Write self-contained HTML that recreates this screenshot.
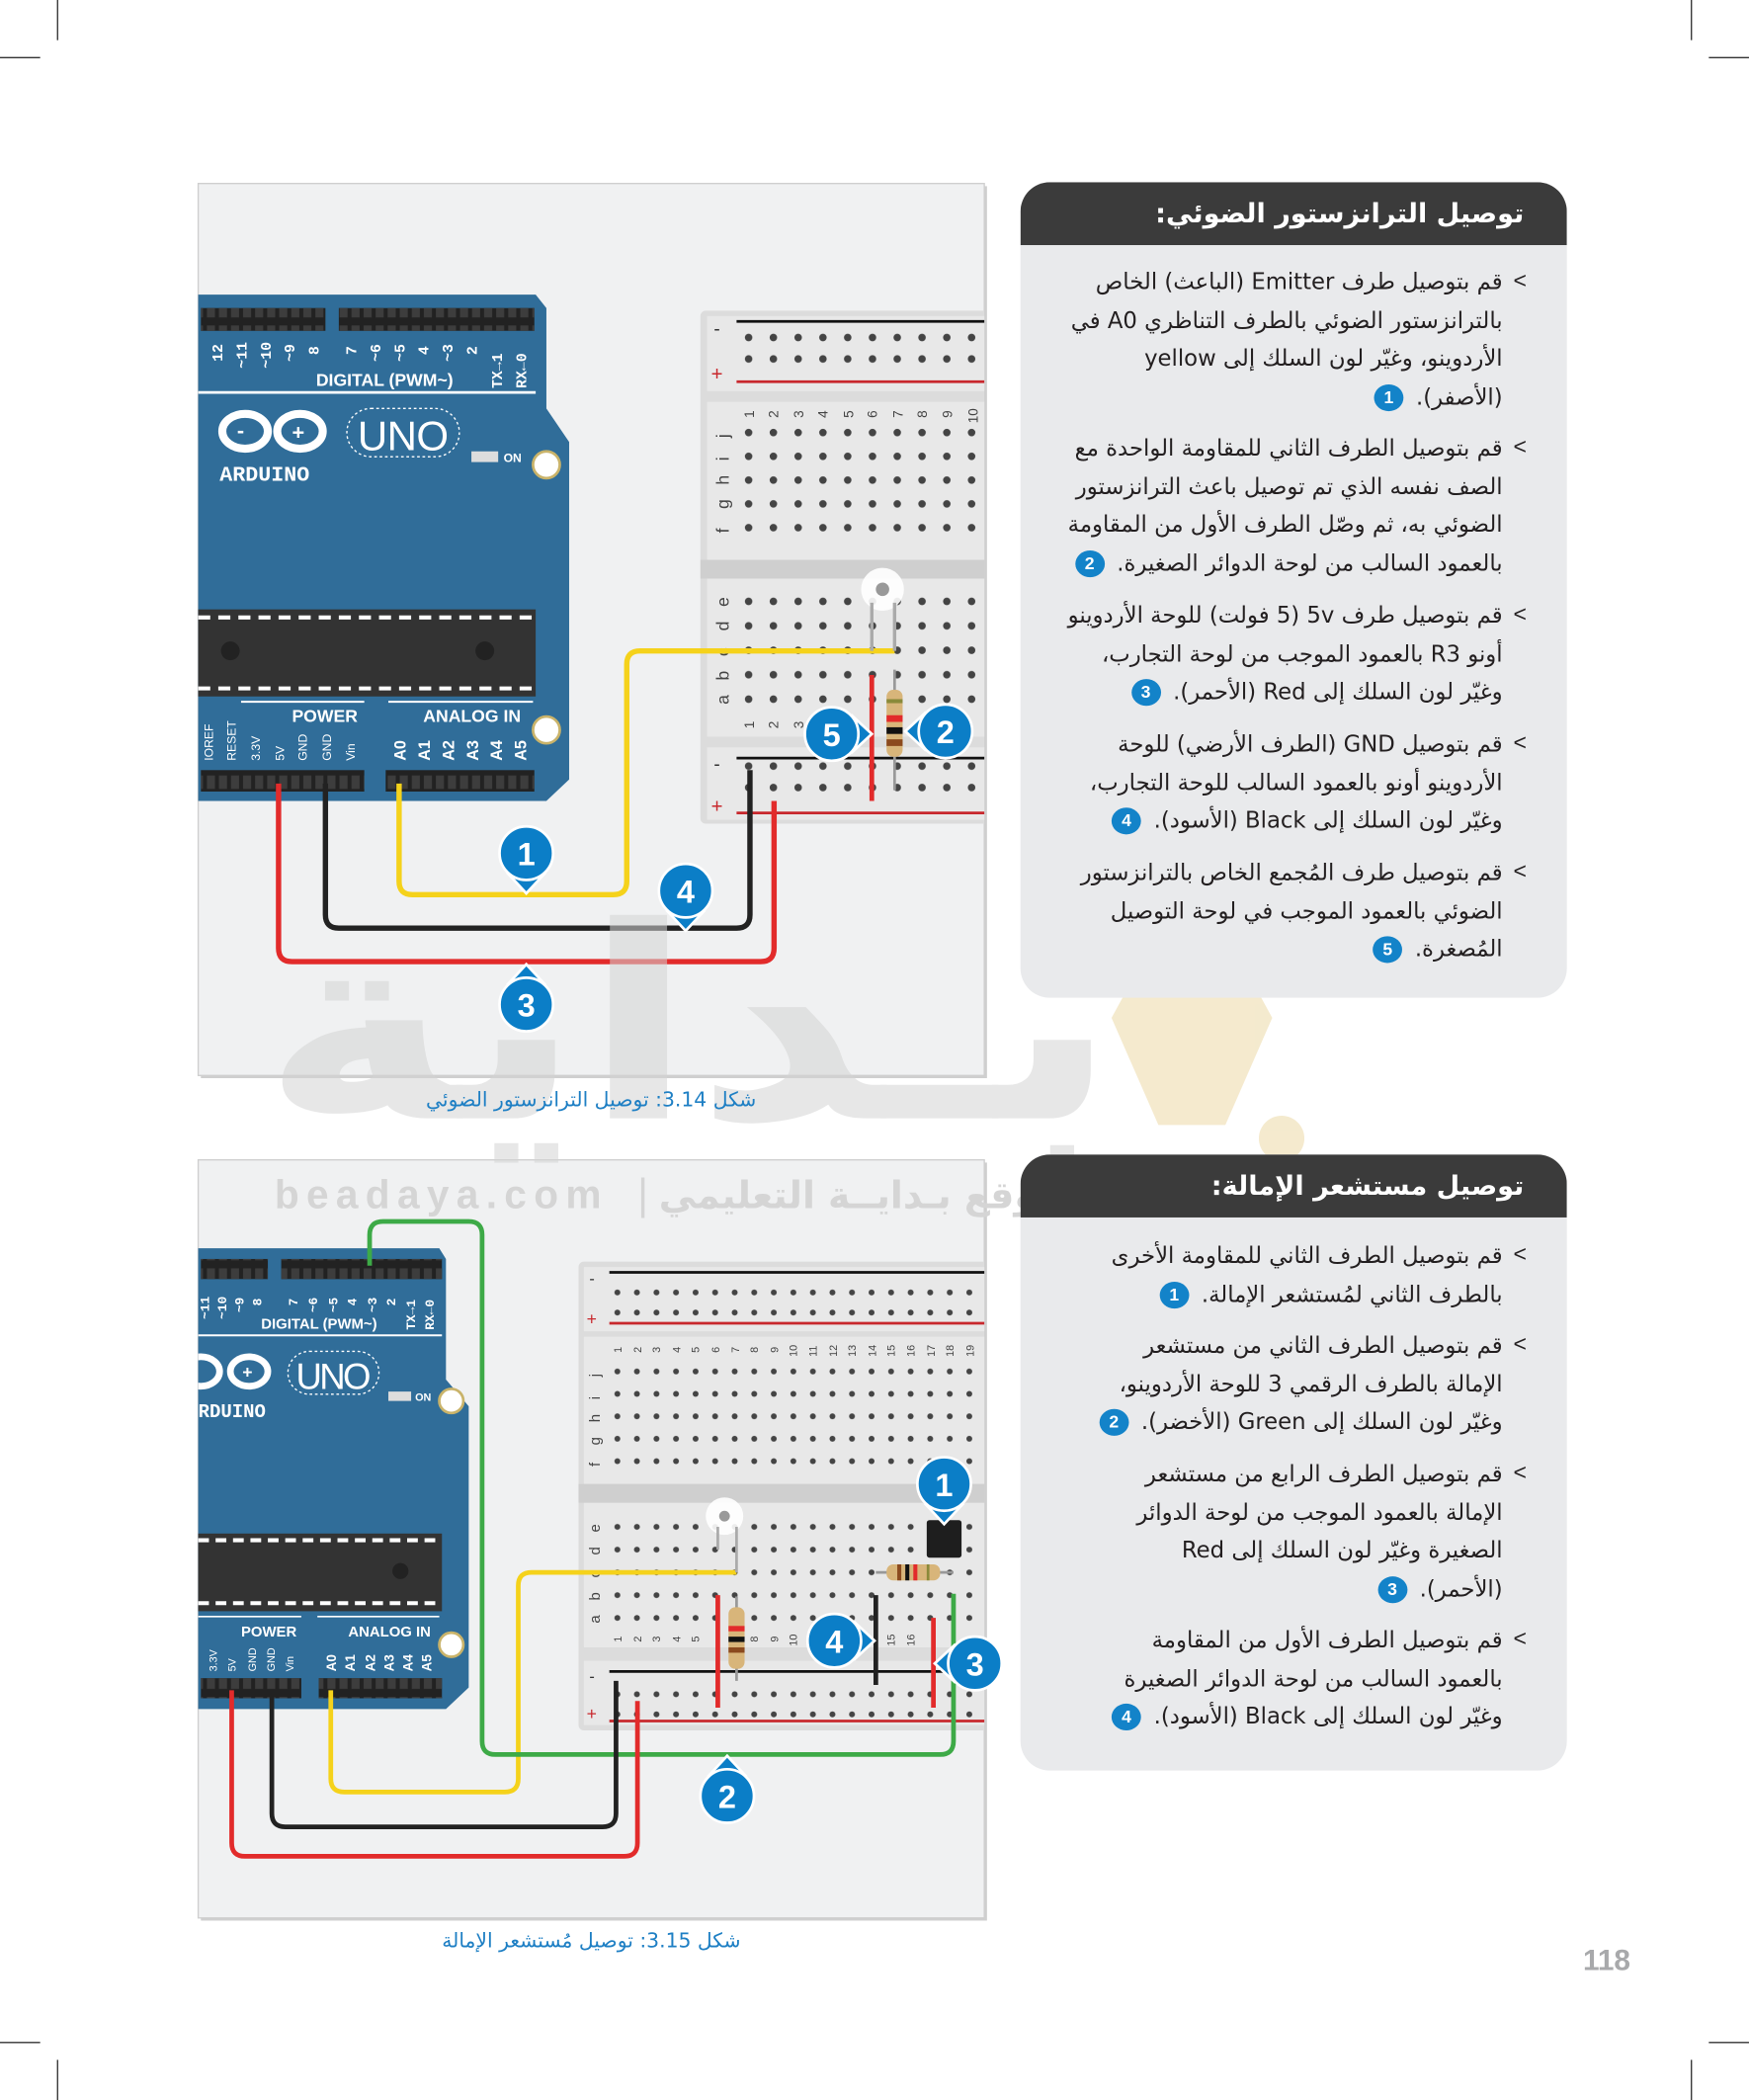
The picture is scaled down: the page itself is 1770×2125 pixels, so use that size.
<!DOCTYPE html>
<html><head><meta charset="utf-8">
<style>
html,body{margin:0;padding:0;background:#fff;}
body{width:1770px;height:2125px;overflow:hidden;position:relative;}
#wrap{position:absolute;left:0;top:0;width:1306px;height:1568px;transform:scale(1.35528);transform-origin:0 0;}
#wrap svg{position:absolute;left:0;top:0;}
.panel{position:absolute;left:762px;width:408px;background:#e9eaec;border-radius:22px;overflow:hidden;}
.hdr{height:47px;background:#3b3b3b;color:#fff;font:bold 20px "DejaVu Sans",sans-serif;direction:rtl;text-align:right;padding-right:32px;box-sizing:border-box;line-height:47px;}
.p{position:absolute;right:48px;direction:rtl;text-align:right;font:16.8px/28.6px "DejaVu Sans","Liberation Sans",sans-serif;color:#231f20;white-space:nowrap;}
.b{position:absolute;right:30px;font:17px "Liberation Sans",sans-serif;color:#231f20;}
.n{display:inline-block;width:22px;height:20px;border-radius:50%;background:#1383c9;color:#fff;font:bold 13px/20px "Liberation Sans",sans-serif;text-align:center;vertical-align:middle;margin-right:4px;}
.cap{position:absolute;direction:rtl;font:15px "DejaVu Sans",sans-serif;color:#1e7fc4;white-space:nowrap;}
</style></head><body><div id="wrap">
<svg width="1306" height="1568" viewBox="0 0 1306 1568" xmlns="http://www.w3.org/2000/svg">
<defs>
<pattern id="d1a" x="549.75" y="244" width="18.5" height="16" patternUnits="userSpaceOnUse"><circle cx="9.25" cy="8" r="2.8" fill="#444"/></pattern>
<pattern id="d1b" x="549.75" y="314.1" width="18.5" height="17.75" patternUnits="userSpaceOnUse"><circle cx="9.25" cy="8.875" r="2.8" fill="#444"/></pattern>
<pattern id="d1c" x="549.75" y="439.9" width="18.5" height="18.25" patternUnits="userSpaceOnUse"><circle cx="9.25" cy="9.125" r="2.8" fill="#444"/></pattern>
<pattern id="d2a" x="453.7" y="957.5" width="14.6" height="15" patternUnits="userSpaceOnUse"><circle cx="7.3" cy="7.5" r="2.2" fill="#444"/></pattern>
<pattern id="d2b" x="453.7" y="1015.6" width="14.6" height="16.75" patternUnits="userSpaceOnUse"><circle cx="7.3" cy="8.375" r="2.2" fill="#444"/></pattern>
<pattern id="d2c" x="453.7" y="1131.5" width="14.6" height="17" patternUnits="userSpaceOnUse"><circle cx="7.3" cy="8.5" r="2.2" fill="#444"/></pattern>
<pattern id="hp" x="0" y="0" width="9" height="16" patternUnits="userSpaceOnUse"><rect x="1.5" y="3" width="6" height="10" fill="#3d3d3d"/></pattern>
<clipPath id="c1"><rect x="148" y="137" width="587" height="666"/></clipPath>
<clipPath id="c2"><rect x="148" y="866" width="587" height="566"/></clipPath>
</defs>
<g stroke="#333" stroke-width="1">
<line x1="43" y1="0" x2="43" y2="30"/><line x1="0" y1="43" x2="30" y2="43"/>
<line x1="1263" y1="0" x2="1263" y2="30"/><line x1="1276" y1="43" x2="1306" y2="43"/>
<line x1="43" y1="1538" x2="43" y2="1568"/><line x1="0" y1="1525" x2="30" y2="1525"/>
<line x1="1263" y1="1538" x2="1263" y2="1568"/><line x1="1276" y1="1525" x2="1306" y2="1525"/>
</g>
<!-- FIGURE 1 -->
<rect x="150" y="139" width="587" height="666" fill="#cfcfcf"/>
<rect x="148" y="137" width="587" height="666" fill="#f0f1f2" stroke="#cfcfcf"/>
<g clip-path="url(#c1)">
<path d="M140 220 H400 L408 230 V305 L425 330 V582 L408 598 H140 Z" fill="#306d99"/>
<rect x="150" y="230" width="93" height="17" fill="#222"/><rect x="150" y="230" width="93" height="17" fill="url(#hp)"/>
<rect x="253" y="230" width="146" height="17" fill="#222"/><rect x="253" y="230" width="146" height="17" fill="url(#hp)"/>
<g font-family="Liberation Mono,monospace" font-size="11" fill="#fff" font-weight="bold">
<text transform="translate(166,270) rotate(-90)">12</text><text transform="translate(184,275) rotate(-90)">~11</text><text transform="translate(202,275) rotate(-90)">~10</text><text transform="translate(220,270) rotate(-90)">~9</text><text transform="translate(238,265) rotate(-90)">8</text>
<text transform="translate(266,265) rotate(-90)">7</text><text transform="translate(284,270) rotate(-90)">~6</text><text transform="translate(302,270) rotate(-90)">~5</text><text transform="translate(320,265) rotate(-90)">4</text><text transform="translate(338,270) rotate(-90)">~3</text><text transform="translate(356,265) rotate(-90)">2</text><text transform="translate(375,290) rotate(-90)">TX→1</text><text transform="translate(393,290) rotate(-90)">RX←0</text>
</g>
<text x="236" y="288" font-family="Liberation Sans" font-weight="bold" font-size="13" fill="#fff">DIGITAL (PWM~)</text>
<line x1="148" y1="293" x2="400" y2="293" stroke="#fff" stroke-width="2"/>
<g fill="none" stroke="#fff" stroke-width="6"><ellipse cx="183" cy="322" rx="17" ry="13"/><ellipse cx="224" cy="322" rx="17" ry="13"/></g>
<text x="177" y="327" font-family="Liberation Sans" font-weight="bold" font-size="16" fill="#fff">-</text><text x="218" y="328" font-family="Liberation Sans" font-weight="bold" font-size="16" fill="#fff">+</text>
<text x="164" y="359" font-family="Liberation Mono" font-weight="bold" font-size="16" fill="#fff">ARDUINO</text>
<rect x="259" y="305" width="84" height="36" rx="18" fill="none" stroke="#fff" stroke-dasharray="2 2"/>
<text x="267" y="336" font-family="Liberation Sans" font-size="31" fill="#fff" textLength="68">UNO</text>
<rect x="352" y="337" width="20" height="8" fill="#ddd"/><text x="376" y="345" font-family="Liberation Sans" font-weight="bold" font-size="9" fill="#fff">ON</text>
<circle cx="408" cy="347" r="10" fill="#fff" stroke="#c9b36a" stroke-width="2"/>
<circle cx="408" cy="545" r="10" fill="#fff" stroke="#c9b36a" stroke-width="2"/>
<rect x="140" y="455" width="260" height="65" fill="#333"/>
<line x1="148" y1="461" x2="400" y2="461" stroke="#fff" stroke-width="3" stroke-dasharray="9 6"/>
<line x1="148" y1="514" x2="400" y2="514" stroke="#fff" stroke-width="3" stroke-dasharray="9 6"/>
<circle cx="172" cy="486" r="7" fill="#222"/><circle cx="362" cy="486" r="7" fill="#222"/>
<line x1="180" y1="524" x2="272" y2="524" stroke="#fff" stroke-width="1.5"/><line x1="290" y1="524" x2="398" y2="524" stroke="#fff" stroke-width="1.5"/>
<text x="218" y="539" font-family="Liberation Sans" font-weight="bold" font-size="13" fill="#fff">POWER</text>
<text x="316" y="539" font-family="Liberation Sans" font-weight="bold" font-size="13" fill="#fff">ANALOG IN</text>
<g font-family="Liberation Sans" font-size="9" fill="#fff">
<text transform="translate(159,568) rotate(-90)">IOREF</text><text transform="translate(176,568) rotate(-90)">RESET</text><text transform="translate(194,568) rotate(-90)">3.3V</text><text transform="translate(212,568) rotate(-90)">5V</text><text transform="translate(229,568) rotate(-90)">GND</text><text transform="translate(247,568) rotate(-90)">GND</text><text transform="translate(265,568) rotate(-90)">Vin</text>
</g>
<g font-family="Liberation Sans" font-weight="bold" font-size="12" fill="#fff">
<text transform="translate(303,568) rotate(-90)">A0</text><text transform="translate(321,568) rotate(-90)">A1</text><text transform="translate(339,568) rotate(-90)">A2</text><text transform="translate(357,568) rotate(-90)">A3</text><text transform="translate(375,568) rotate(-90)">A4</text><text transform="translate(393,568) rotate(-90)">A5</text>
</g>
<rect x="150" y="575" width="122" height="16" fill="#222"/><rect x="150" y="575" width="122" height="16" fill="url(#hp)"/>
<rect x="288" y="575" width="111" height="16" fill="#222"/><rect x="288" y="575" width="111" height="16" fill="url(#hp)"/>
<rect x="523" y="232" width="230" height="383" rx="4" fill="#dcdcdc"/>
<rect x="528" y="300" width="220" height="118" fill="#e8e8e8"/><rect x="528" y="432" width="220" height="118" fill="#e8e8e8"/>
<rect x="528" y="236" width="220" height="56" fill="#e8e8e8"/><rect x="528" y="558" width="220" height="54" fill="#e8e8e8"/>
<rect x="523" y="418" width="230" height="14" fill="#cfcfcf"/>
<line x1="550" y1="240" x2="740" y2="240" stroke="#111" stroke-width="2"/><line x1="550" y1="285" x2="740" y2="285" stroke="#c8282d" stroke-width="2"/>
<line x1="550" y1="566" x2="740" y2="566" stroke="#111" stroke-width="2"/><line x1="550" y1="607" x2="740" y2="607" stroke="#c8282d" stroke-width="2"/>
<text x="533" y="250" font-size="14" fill="#333" font-family="Liberation Sans">-</text><text x="531" y="284" font-size="15" fill="#c8282d" font-family="Liberation Sans">+</text>
<text x="533" y="575" font-size="14" fill="#333" font-family="Liberation Sans">-</text><text x="531" y="607" font-size="15" fill="#c8282d" font-family="Liberation Sans">+</text>
<rect x="550" y="244" width="190" height="32" fill="url(#d1a)"/>
<rect x="550" y="314" width="190" height="89" fill="url(#d1b)"/>
<rect x="550" y="440" width="190" height="91" fill="url(#d1c)"/>
<rect x="550" y="568" width="190" height="32" fill="url(#d1a)"/>
<g font-family="Liberation Sans" font-size="10" fill="#444">
<text transform="translate(563,312) rotate(-90)">1</text><text transform="translate(581,312) rotate(-90)">2</text><text transform="translate(600,312) rotate(-90)">3</text><text transform="translate(618,312) rotate(-90)">4</text><text transform="translate(637,312) rotate(-90)">5</text><text transform="translate(655,312) rotate(-90)">6</text><text transform="translate(674,312) rotate(-90)">7</text><text transform="translate(692,312) rotate(-90)">8</text><text transform="translate(711,312) rotate(-90)">9</text><text transform="translate(730,316) rotate(-90)">10</text>
<text transform="translate(563,544) rotate(-90)">1</text><text transform="translate(581,544) rotate(-90)">2</text><text transform="translate(600,544) rotate(-90)">3</text>
</g>
<g font-family="Liberation Sans" font-size="13" fill="#444">
<text transform="translate(544,327) rotate(-90)">j</text><text transform="translate(544,344) rotate(-90)">i</text><text transform="translate(544,362) rotate(-90)">h</text><text transform="translate(544,380) rotate(-90)">g</text><text transform="translate(544,398) rotate(-90)">f</text>
<text transform="translate(544,453) rotate(-90)">e</text><text transform="translate(544,471) rotate(-90)">d</text><text transform="translate(544,490) rotate(-90)">c</text><text transform="translate(544,508) rotate(-90)">b</text><text transform="translate(544,526) rotate(-90)">a</text>
</g>
</g>
<g fill="none" stroke-width="4" stroke-linejoin="round">
<path d="M298 585 V658 Q298 668 308 668 H458 Q468 668 468 658 V496 Q468 486 478 486 H668" stroke="#f5d21b"/>
<path d="M243 585 V683 Q243 693 253 693 H550 Q560 693 560 683 V575" stroke="#222"/>
<path d="M208 585 V708 Q208 718 218 718 H568 Q578 718 578 708 V598" stroke="#e22b2b"/>
<path d="M651 504 V598" stroke="#e22b2b" stroke-width="3.5"/>
</g>
<circle cx="659" cy="440" r="16" fill="#fff" opacity="0.9"/><circle cx="659" cy="440" r="5" fill="#999"/>
<path d="M651 450 V486 M668 450 V486" stroke="#aaa" stroke-width="2.5"/>
<path d="M668 500 V590" stroke="#999" stroke-width="2"/>
<rect x="662" y="515" width="12" height="50" rx="5" fill="#d8b57a"/>
<rect x="662" y="522" width="12" height="3" fill="#8a8a3a"/><rect x="662" y="534" width="12" height="5" fill="#e22b2b"/><rect x="662" y="543" width="12" height="5" fill="#111"/><rect x="662" y="552" width="12" height="5" fill="#8b4a1e"/>
<!-- FIGURE 2 -->
<rect x="150" y="868" width="587" height="566" fill="#cfcfcf"/>
<rect x="148" y="866" width="587" height="566" fill="#f0f1f2" stroke="#cfcfcf"/>
<!-- watermark -->
<g opacity="0.55">
<text x="195" y="835" font-family="DejaVu Sans" font-weight="bold" font-size="200" fill="#d4d4d4" textLength="640" lengthAdjust="spacingAndGlyphs">بـداية</text>
<path d="M890 650 L950 760 L915 840 L865 840 L830 760 Z" fill="#ecd9a6"/>
<circle cx="957" cy="850" r="17" fill="#ecd9a6"/>
</g>
<text x="205" y="902" font-family="Liberation Sans" font-weight="bold" font-size="30" fill="#d5d5d5" letter-spacing="6" textLength="250">beadaya.com</text>
<text x="475" y="902" font-family="DejaVu Sans" font-size="30" fill="#d5d5d5">|</text>
<text x="492" y="902" font-family="DejaVu Sans" font-weight="bold" font-size="28" fill="#d5d5d5" textLength="300" lengthAdjust="spacingAndGlyphs">موقع بـدايــة التعليمي</text>
<g clip-path="url(#c2)">
<path d="M140 932 H328 L333 940 V1030 L350 1050 V1260 L333 1276 H140 Z" fill="#306d99"/>
<rect x="150" y="940" width="50" height="15" fill="#222"/><rect x="150" y="940" width="50" height="15" fill="url(#hp)"/>
<rect x="210" y="940" width="120" height="15" fill="#222"/><rect x="210" y="940" width="120" height="15" fill="url(#hp)"/>
<g font-family="Liberation Mono,monospace" font-size="9.5" fill="#fff" font-weight="bold">
<text transform="translate(156,985) rotate(-90)">~11</text><text transform="translate(169,985) rotate(-90)">~10</text><text transform="translate(182,980) rotate(-90)">~9</text><text transform="translate(195,975) rotate(-90)">8</text>
<text transform="translate(222,975) rotate(-90)">7</text><text transform="translate(237,980) rotate(-90)">~6</text><text transform="translate(252,980) rotate(-90)">~5</text><text transform="translate(266,975) rotate(-90)">4</text><text transform="translate(281,980) rotate(-90)">~3</text><text transform="translate(295,975) rotate(-90)">2</text><text transform="translate(310,993) rotate(-90)">TX→1</text><text transform="translate(324,993) rotate(-90)">RX←0</text>
</g>
<text x="195" y="992" font-family="Liberation Sans" font-weight="bold" font-size="11" fill="#fff">DIGITAL (PWM~)</text>
<line x1="148" y1="997" x2="330" y2="997" stroke="#fff" stroke-width="1.5"/>
<g fill="none" stroke="#fff" stroke-width="5"><ellipse cx="150" cy="1024" rx="14" ry="11"/><ellipse cx="186" cy="1024" rx="14" ry="11"/></g>
<text x="181" y="1029" font-family="Liberation Sans" font-weight="bold" font-size="13" fill="#fff">+</text>
<text x="148" y="1058" font-family="Liberation Mono" font-weight="bold" font-size="14" fill="#fff">RDUINO</text>
<rect x="215" y="1009" width="68" height="32" rx="16" fill="none" stroke="#fff" stroke-dasharray="2 2"/>
<text x="221" y="1037" font-family="Liberation Sans" font-size="27" fill="#fff" textLength="56">UNO</text>
<rect x="290" y="1039" width="17" height="7" fill="#ddd"/><text x="310" y="1046" font-family="Liberation Sans" font-weight="bold" font-size="8" fill="#fff">ON</text>
<circle cx="337" cy="1046" r="9" fill="#fff" stroke="#c9b36a" stroke-width="2"/>
<circle cx="337" cy="1228" r="9" fill="#fff" stroke="#c9b36a" stroke-width="2"/>
<rect x="140" y="1145" width="190" height="58" fill="#333"/>
<line x1="148" y1="1150" x2="330" y2="1150" stroke="#fff" stroke-width="3" stroke-dasharray="8 5"/>
<line x1="148" y1="1197" x2="330" y2="1197" stroke="#fff" stroke-width="3" stroke-dasharray="8 5"/>
<circle cx="299" cy="1173" r="6" fill="#222"/>
<line x1="148" y1="1207" x2="225" y2="1207" stroke="#fff" stroke-width="1.2"/><line x1="237" y1="1207" x2="328" y2="1207" stroke="#fff" stroke-width="1.2"/>
<text x="180" y="1222" font-family="Liberation Sans" font-weight="bold" font-size="11" fill="#fff">POWER</text>
<text x="260" y="1222" font-family="Liberation Sans" font-weight="bold" font-size="11" fill="#fff">ANALOG IN</text>
<g font-family="Liberation Sans" font-size="8" fill="#fff">
<text transform="translate(162,1248) rotate(-90)">3.3V</text><text transform="translate(176,1248) rotate(-90)">5V</text><text transform="translate(191,1248) rotate(-90)">GND</text><text transform="translate(205,1248) rotate(-90)">GND</text><text transform="translate(219,1248) rotate(-90)">Vin</text>
</g>
<g font-family="Liberation Sans" font-weight="bold" font-size="10" fill="#fff">
<text transform="translate(251,1248) rotate(-90)">A0</text><text transform="translate(265,1248) rotate(-90)">A1</text><text transform="translate(280,1248) rotate(-90)">A2</text><text transform="translate(294,1248) rotate(-90)">A3</text><text transform="translate(308,1248) rotate(-90)">A4</text><text transform="translate(322,1248) rotate(-90)">A5</text>
</g>
<rect x="150" y="1253" width="75" height="15" fill="#222"/><rect x="150" y="1253" width="75" height="15" fill="url(#hp)"/>
<rect x="238" y="1253" width="92" height="15" fill="#222"/><rect x="238" y="1253" width="92" height="15" fill="url(#hp)"/>
<rect x="432" y="942" width="320" height="350" rx="4" fill="#dcdcdc"/>
<rect x="436" y="946" width="312" height="48" fill="#e8e8e8"/><rect x="436" y="998" width="312" height="110" fill="#e8e8e8"/>
<rect x="436" y="1122" width="312" height="108" fill="#e8e8e8"/><rect x="436" y="1240" width="312" height="48" fill="#e8e8e8"/>
<rect x="432" y="1108" width="320" height="14" fill="#cfcfcf"/>
<line x1="455" y1="950" x2="740" y2="950" stroke="#111" stroke-width="2"/><line x1="455" y1="988" x2="740" y2="988" stroke="#c8282d" stroke-width="2"/>
<line x1="455" y1="1248" x2="740" y2="1248" stroke="#111" stroke-width="2"/><line x1="455" y1="1285" x2="740" y2="1285" stroke="#c8282d" stroke-width="2"/>
<text x="440" y="959" font-size="12" fill="#333" font-family="Liberation Sans">-</text><text x="438" y="989" font-size="13" fill="#c8282d" font-family="Liberation Sans">+</text>
<text x="440" y="1256" font-size="12" fill="#333" font-family="Liberation Sans">-</text><text x="438" y="1284" font-size="13" fill="#c8282d" font-family="Liberation Sans">+</text>
<rect x="454" y="958" width="286" height="30" fill="url(#d2a)"/>
<rect x="454" y="1016" width="286" height="84" fill="url(#d2b)"/>
<rect x="454" y="1132" width="286" height="85" fill="url(#d2c)"/>
<rect x="454" y="1253" width="286" height="30" fill="url(#d2a)"/>
<g font-family="Liberation Sans" font-size="8" fill="#444">
<text transform="translate(464,1010) rotate(-90)">1</text><text transform="translate(479,1010) rotate(-90)">2</text><text transform="translate(493,1010) rotate(-90)">3</text><text transform="translate(508,1010) rotate(-90)">4</text><text transform="translate(522,1010) rotate(-90)">5</text><text transform="translate(537,1010) rotate(-90)">6</text><text transform="translate(552,1010) rotate(-90)">7</text><text transform="translate(566,1010) rotate(-90)">8</text><text transform="translate(581,1010) rotate(-90)">9</text><text transform="translate(595,1013) rotate(-90)">10</text><text transform="translate(610,1013) rotate(-90)">11</text><text transform="translate(625,1013) rotate(-90)">12</text><text transform="translate(639,1013) rotate(-90)">13</text><text transform="translate(654,1013) rotate(-90)">14</text><text transform="translate(668,1013) rotate(-90)">15</text><text transform="translate(683,1013) rotate(-90)">16</text><text transform="translate(698,1013) rotate(-90)">17</text><text transform="translate(712,1013) rotate(-90)">18</text><text transform="translate(727,1013) rotate(-90)">19</text>
<text transform="translate(464,1226) rotate(-90)">1</text><text transform="translate(479,1226) rotate(-90)">2</text><text transform="translate(493,1226) rotate(-90)">3</text><text transform="translate(508,1226) rotate(-90)">4</text><text transform="translate(522,1226) rotate(-90)">5</text><text transform="translate(566,1226) rotate(-90)">8</text><text transform="translate(581,1226) rotate(-90)">9</text><text transform="translate(595,1229) rotate(-90)">10</text><text transform="translate(668,1229) rotate(-90)">15</text><text transform="translate(683,1229) rotate(-90)">16</text>
</g>
<g font-family="Liberation Sans" font-size="11" fill="#444">
<text transform="translate(448,1028) rotate(-90)">j</text><text transform="translate(448,1045) rotate(-90)">i</text><text transform="translate(448,1062) rotate(-90)">h</text><text transform="translate(448,1079) rotate(-90)">g</text><text transform="translate(448,1095) rotate(-90)">f</text>
<text transform="translate(448,1144) rotate(-90)">e</text><text transform="translate(448,1161) rotate(-90)">d</text><text transform="translate(448,1178) rotate(-90)">c</text><text transform="translate(448,1195) rotate(-90)">b</text><text transform="translate(448,1212) rotate(-90)">a</text>
</g>
</g>
<g fill="none" stroke-width="3.5" stroke-linejoin="round">
<path d="M247 1262 V1328 Q247 1338 257 1338 H377 Q387 1338 387 1328 V1184 Q387 1174 397 1174 H550" stroke="#f5d21b"/>
<path d="M276 945 V922 Q276 912 286 912 H350 Q360 912 360 922 V1300 Q360 1310 370 1310 H702 Q712 1310 712 1300 V1190" stroke="#3daa47"/>
<path d="M203 1262 V1354 Q203 1364 213 1364 H450 Q460 1364 460 1354 V1255" stroke="#222"/>
<path d="M173 1262 V1376 Q173 1386 183 1386 H466 Q476 1386 476 1376 V1270" stroke="#e22b2b"/>
<path d="M536 1191 V1275" stroke="#e22b2b"/>
<path d="M654 1191 V1258" stroke="#222"/>
<path d="M697 1208 V1275" stroke="#e22b2b"/>
</g>
<circle cx="541" cy="1132" r="14" fill="#fff" opacity="0.9"/><circle cx="541" cy="1132" r="4" fill="#999"/>
<path d="M536 1140 V1157 M550 1140 V1174" stroke="#aaa" stroke-width="2"/>
<path d="M550 1192 V1255" stroke="#999" stroke-width="2"/>
<rect x="544" y="1200" width="12" height="46" rx="5" fill="#d8b57a"/>
<rect x="544" y="1214" width="12" height="4" fill="#e22b2b"/><rect x="544" y="1222" width="12" height="4" fill="#111"/><rect x="544" y="1230" width="12" height="4" fill="#8b4a1e"/>
<path d="M654 1174 H712" stroke="#999" stroke-width="2"/>
<rect x="662" y="1168" width="40" height="12" rx="5" fill="#d8b57a"/>
<rect x="670" y="1168" width="3" height="12" fill="#8b4a1e"/><rect x="676" y="1168" width="3" height="12" fill="#111"/><rect x="682" y="1168" width="3" height="12" fill="#e22b2b"/><rect x="692" y="1168" width="2" height="12" fill="#8a8a3a"/>
<rect x="692" y="1135" width="26" height="28" rx="2" fill="#1e1e1e"/>
<g fill="#0b7ec7" stroke="#fff" stroke-width="2">
<g transform="translate(393,637)"><path d="M-13 16 L0 30 L13 16 Z"/><circle r="20"/></g>
<g transform="translate(512,665)"><path d="M-13 16 L0 30 L13 16 Z"/><circle r="20"/></g>
<g transform="translate(393,750) rotate(180)"><path d="M-13 16 L0 30 L13 16 Z"/><circle r="20"/></g>
<g transform="translate(621,548) rotate(-90)"><path d="M-13 16 L0 30 L13 16 Z"/><circle r="20"/></g>
<g transform="translate(706,546) rotate(90)"><path d="M-13 16 L0 30 L13 16 Z"/><circle r="20"/></g>
<g transform="translate(705,1108)"><path d="M-13 16 L0 30 L13 16 Z"/><circle r="20"/></g>
<g transform="translate(623,1225) rotate(-90)"><path d="M-13 16 L0 30 L13 16 Z"/><circle r="20"/></g>
<g transform="translate(728,1242) rotate(90)"><path d="M-13 16 L0 30 L13 16 Z"/><circle r="20"/></g>
<g transform="translate(543,1341) rotate(180)"><path d="M-13 16 L0 30 L13 16 Z"/><circle r="20"/></g>
</g>
<g font-family="Liberation Sans" font-weight="bold" font-size="24" fill="#fff" text-anchor="middle">
<text x="393" y="646">1</text><text x="512" y="674">4</text><text x="393" y="759">3</text><text x="621" y="557">5</text><text x="706" y="555">2</text>
<text x="705" y="1117">1</text><text x="623" y="1234">4</text><text x="728" y="1251">3</text><text x="543" y="1350">2</text>
</g>
<text x="1182" y="1471" font-family="Liberation Sans" font-weight="bold" font-size="22" fill="#a8a9ab">118</text>
</svg>

<div class="cap" style="left:318px;top:812px;">شكل 3.14: توصيل الترانزستور الضوئي</div>
<div class="cap" style="left:330px;top:1440px;">شكل 3.15: توصيل مُستشعر الإمالة</div>

<div class="panel" style="top:136px;height:609px;">
<div class="hdr">توصيل الترانزستور الضوئي:</div>
<span class="b" style="top:64px">&lt;</span>
<div class="p" style="top:60px">قم بتوصيل طرف Emitter (الباعث) الخاص<br>بالترانزستور الضوئي بالطرف التناظري A0 في<br>الأردوينو، وغيّر لون السلك إلى yellow<br>(الأصفر). <span class="n">1</span></div>
<span class="b" style="top:188px">&lt;</span>
<div class="p" style="top:184px">قم بتوصيل الطرف الثاني للمقاومة الواحدة مع<br>الصف نفسه الذي تم توصيل باعث الترانزستور<br>الضوئي به، ثم وصّل الطرف الأول من المقاومة<br>بالعمود السالب من لوحة الدوائر الصغيرة. <span class="n">2</span></div>
<span class="b" style="top:313px">&lt;</span>
<div class="p" style="top:309px">قم بتوصيل طرف 5v (5 فولت) للوحة الأردوينو<br>أونو R3 بالعمود الموجب من لوحة التجارب،<br>وغيّر لون السلك إلى Red (الأحمر). <span class="n">3</span></div>
<span class="b" style="top:409px">&lt;</span>
<div class="p" style="top:405px">قم بتوصيل GND (الطرف الأرضي) للوحة<br>الأردوينو أونو بالعمود السالب للوحة التجارب،<br>وغيّر لون السلك إلى Black (الأسود). <span class="n">4</span></div>
<span class="b" style="top:505px">&lt;</span>
<div class="p" style="top:501px">قم بتوصيل طرف المُجمع الخاص بالترانزستور<br>الضوئي بالعمود الموجب في لوحة التوصيل<br>المُصغرة. <span class="n">5</span></div>
</div>

<div class="panel" style="top:862px;height:460px;">
<div class="hdr">توصيل مستشعر الإمالة:</div>
<span class="b" style="top:65px">&lt;</span>
<div class="p" style="top:61px">قم بتوصيل الطرف الثاني للمقاومة الأخرى<br>بالطرف الثاني لمُستشعر الإمالة. <span class="n">1</span></div>
<span class="b" style="top:132px">&lt;</span>
<div class="p" style="top:128px">قم بتوصيل الطرف الثاني من مستشعر<br>الإمالة بالطرف الرقمي 3 للوحة الأردوينو،<br>وغيّر لون السلك إلى Green (الأخضر). <span class="n">2</span></div>
<span class="b" style="top:228px">&lt;</span>
<div class="p" style="top:224px">قم بتوصيل الطرف الرابع من مستشعر<br>الإمالة بالعمود الموجب من لوحة الدوائر<br>الصغيرة وغيّر لون السلك إلى Red<br>(الأحمر). <span class="n">3</span></div>
<span class="b" style="top:352px">&lt;</span>
<div class="p" style="top:348px">قم بتوصيل الطرف الأول من المقاومة<br>بالعمود السالب من لوحة الدوائر الصغيرة<br>وغيّر لون السلك إلى Black (الأسود). <span class="n">4</span></div>
</div>
</div></body></html>
